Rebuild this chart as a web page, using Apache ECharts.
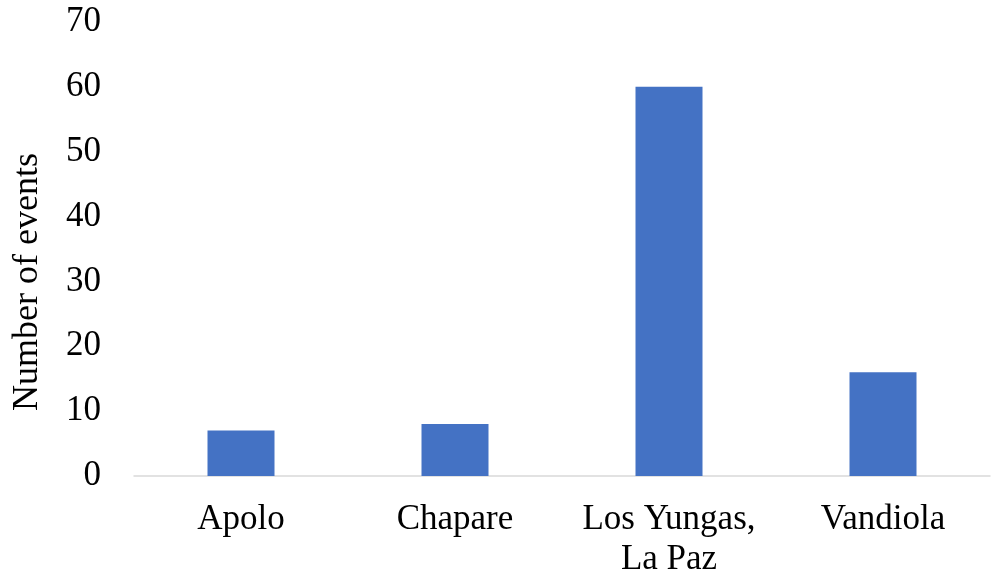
<!DOCTYPE html>
<html>
<head>
<meta charset="utf-8">
<script src="https://cdn.jsdelivr.net/npm/echarts@6/dist/echarts.min.js"></script>
<style>html,body{margin:0;padding:0;background:#fff}#c{width:997px;height:580px}</style>
</head>
<body>
<div id="c"></div>
<script>
const categories = ['Apolo', 'Chapare', 'Los Yungas,\nLa Paz', 'Vandiola'];
const events = [7, 8, 60, 16];
const yAxisTitle = 'Number of events';

const FONT = '"Liberation Serif", "Times New Roman", serif';
const chart = echarts.init(document.getElementById('c'));
chart.setOption({
  animation: false,
  grid: { left: 134, right: 7, top: 22, bottom: 101 },
  xAxis: {
    type: 'category',
    data: categories,
    axisLine: { lineStyle: { color: '#D9D9D9', width: 1.5 } },
    axisTick: { show: false },
    axisLabel: { interval: 0, color: '#000', fontFamily: FONT, fontSize: 35, lineHeight: 40, margin: 24 }
  },
  yAxis: {
    type: 'value',
    min: 0, max: 70, interval: 10,
    name: yAxisTitle,
    nameLocation: 'middle',
    nameGap: 88,
    nameRotate: 90,
    nameTextStyle: { color: '#000', fontFamily: FONT, fontSize: 36, padding: [0, 66, 0, 0] },
    axisLine: { show: false },
    axisTick: { show: false },
    splitLine: { show: false },
    axisLabel: { color: '#000', fontFamily: FONT, fontSize: 35, margin: 33 }
  },
  series: [{
    type: 'bar',
    data: events,
    barWidth: 67,
    itemStyle: { color: '#4472C4' }
  }]
});
</script>
</body>
</html>
